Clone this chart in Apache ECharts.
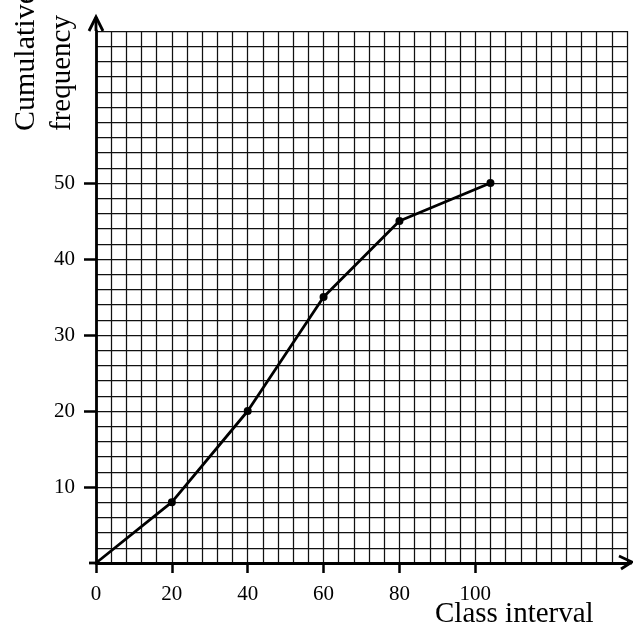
<!DOCTYPE html>
<html><head><meta charset="utf-8">
<script src="https://cdn.jsdelivr.net/npm/echarts@6/dist/echarts.min.js"></script>
<style>html,body{margin:0;padding:0;background:#fff}#c{width:633px;height:632px}</style>
</head><body><div id="c"></div>
<script>
// Data
const classUpper = [0, 20, 40, 60, 80, 104];
const cumFreq = [0, 8, 20, 35, 45, 50];
const xTickLabels = [0, 20, 40, 60, 80, 100];
const yTickLabels = [10, 20, 30, 40, 50];
const xTitle = 'Class interval';
const yTitleLines = ['Cumulative', 'frequency'];
const xMax = 140, yMax = 70, xMinor = 4, yMinor = 2;

const FONT = '"Liberation Serif", "Times New Roman", serif';
const chart = echarts.init(document.getElementById('c'), null, {renderer: 'canvas'});

const gridLine = {show: true, lineStyle: {color: '#111', width: 1.25}};
const axisLineStyle = {color: '#000', width: 2.8};
const labelStyle = {show: true, margin: 21, color: '#000', fontFamily: FONT, fontSize: 21};

chart.setOption({
  animation: false,
  backgroundColor: '#fff',
  grid: {left: 96, top: 31, right: 6, bottom: 69, containLabel: false},
  xAxis: [{
    // graph-paper grid
    type: 'value', min: 0, max: xMax, interval: xMinor,
    splitLine: gridLine, axisLine: {show: false}, axisTick: {show: false}, axisLabel: {show: false}
  }, {
    type: 'value', min: 0, max: xMax, interval: xMinor, position: 'bottom',
    splitLine: {show: false},
    axisLine: {show: true, onZero: false, lineStyle: axisLineStyle},
    axisTick: {show: true, customValues: xTickLabels, length: 10, lineStyle: {color: '#000', width: 2.5}},
    axisLabel: Object.assign({customValues: xTickLabels}, labelStyle)
  }],
  yAxis: [{
    type: 'value', min: 0, max: yMax, interval: yMinor,
    splitLine: gridLine, axisLine: {show: false}, axisTick: {show: false}, axisLabel: {show: false}
  }, {
    type: 'value', min: 0, max: yMax, interval: yMinor, position: 'left',
    splitLine: {show: false},
    axisLine: {show: true, onZero: false, lineStyle: axisLineStyle},
    axisTick: {show: true, customValues: yTickLabels, length: 12, lineStyle: {color: '#000', width: 2.5}},
    axisLabel: Object.assign({customValues: yTickLabels}, labelStyle)
  }],
  series: [{
    type: 'line',
    xAxisIndex: 1, yAxisIndex: 1,
    data: classUpper.map((x, i) => ({value: [x, cumFreq[i]], symbolSize: i === 0 ? 0 : 8})),
    symbol: 'circle',
    showSymbol: true,
    lineStyle: {color: '#000', width: 2.8},
    itemStyle: {color: '#000'},
    z: 5
  }]
});

// Axis arrows and titles, positioned from the grid
const o = chart.convertToPixel({gridIndex: 0}, [0, 0]);
const yEnd = chart.convertToPixel({gridIndex: 0}, [0, yMax]);
const xEnd = chart.convertToPixel({gridIndex: 0}, [xMax, 0]);
const arrowStyle = {stroke: '#000', lineWidth: 2.8, fill: 'none'};
chart.setOption({
  graphic: [
    {type: 'polyline', shape: {points: [[o[0], yEnd[1]], [o[0], yEnd[1] - 14]]}, style: arrowStyle, z: 10},
    {type: 'polyline', shape: {points: [[o[0] - 7, yEnd[1]], [o[0], yEnd[1] - 14], [o[0] + 7, yEnd[1]]]}, style: arrowStyle, z: 10},
    {type: 'polyline', shape: {points: [[o[0] - 7, o[1]], [o[0], o[1]]]}, style: arrowStyle, z: 10},
    {type: 'polyline', shape: {points: [[xEnd[0], o[1]], [xEnd[0] + 5, o[1]]]}, style: arrowStyle, z: 10},
    {type: 'polyline', shape: {points: [[xEnd[0] - 8, o[1] - 7], [xEnd[0] + 5, o[1] - 1], [xEnd[0] - 6, o[1] + 6]]}, style: arrowStyle, z: 10},
    {type: 'text', x: 435, y: 614, style: {text: xTitle, font: '29px ' + FONT, fill: '#000', textAlign: 'left', textVerticalAlign: 'middle'}},
    {type: 'text', x: 26, y: 131, rotation: Math.PI / 2, style: {text: yTitleLines[0], font: '30px ' + FONT, fill: '#000', textAlign: 'left', textVerticalAlign: 'middle'}},
    {type: 'text', x: 62, y: 131, rotation: Math.PI / 2, style: {text: yTitleLines[1], font: '29px ' + FONT, fill: '#000', textAlign: 'left', textVerticalAlign: 'middle'}}
  ]
});
</script></body></html>
